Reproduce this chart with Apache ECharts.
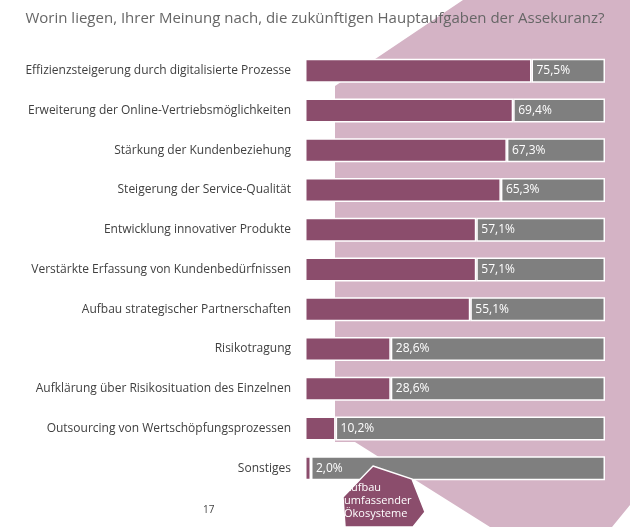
<!DOCTYPE html><html><head><meta charset="utf-8">
<script src="https://cdn.jsdelivr.net/npm/echarts@6/dist/echarts.min.js"></script>
<style>html,body{margin:0;padding:0;background:#fff}#c{width:630px;height:527px}</style></head><body><div id="c"></div>
<script>
const categories=["Effizienzsteigerung durch digitalisierte Prozesse","Erweiterung der Online-Vertriebsmöglichkeiten","Stärkung der Kundenbeziehung","Steigerung der Service-Qualität","Entwicklung innovativer Produkte","Verstärkte Erfassung von Kundenbedürfnissen","Aufbau strategischer Partnerschaften","Risikotragung","Aufklärung über Risikosituation des Einzelnen","Outsourcing von Wertschöpfungsprozessen","Sonstiges"];
const values=[75.5,69.4,67.3,65.3,57.1,57.1,55.1,28.6,28.6,10.2,2.0];
const rest=values.map(v=>+(100-v).toFixed(1));
const F="Open Sans";
const chart=echarts.init(document.getElementById('c'));
chart.setOption({
animation:false,
title:{text:"Worin liegen, Ihrer Meinung nach, die zukünftigen Hauptaufgaben der Assekuranz?",left:'center',top:6,textStyle:{fontFamily:F,fontSize:15,fontWeight:'normal',color:'#666'}},
graphic:[
{type:'polygon',z:-10,silent:true,shape:{points:[[463,0],[630,0],[630,505],[612,527],[490,527],[355,442],[335,442],[335,86]]},style:{fill:'#d4b3c5'}},
{type:'polygon',z:100,shape:{points:[[373,466],[412,479],[425,512],[413,527],[345,527],[343,497]]},style:{fill:'#8b4d6c',stroke:'#fff',lineWidth:1.5}},
{type:'text',z:101,left:384-40,top:481,style:{text:"Aufbau\numfassender\nÖkosysteme",width:80,align:'center',fill:'#fff',font:'11px "Open Sans"',lineHeight:13}},
{type:'text',left:203,top:505,style:{text:"17",fill:'#444',font:'10px "Open Sans"'}}
],
grid:{left:305,right:25,top:51,bottom:39},
xAxis:{type:'value',min:0,max:100,show:false},
yAxis:{type:'category',inverse:true,data:categories,axisLine:{show:false},axisTick:{show:false},axisLabel:{fontFamily:F,fontSize:12,color:'#404040',margin:14}},
series:[
{type:'bar',stack:'a',data:values,barWidth:24,itemStyle:{color:'#8b4d6c',borderColor:'#fff',borderWidth:1.5}},
{type:'bar',stack:'a',data:rest,barWidth:24,itemStyle:{color:'#7f7f7f',borderColor:'#fff',borderWidth:1.5},
 label:{show:true,position:'insideLeft',distance:5,color:'#fff',fontFamily:F,fontSize:12,formatter:p=>values[p.dataIndex].toFixed(1).replace('.',',')+'%'}}
]});
</script></body></html>
